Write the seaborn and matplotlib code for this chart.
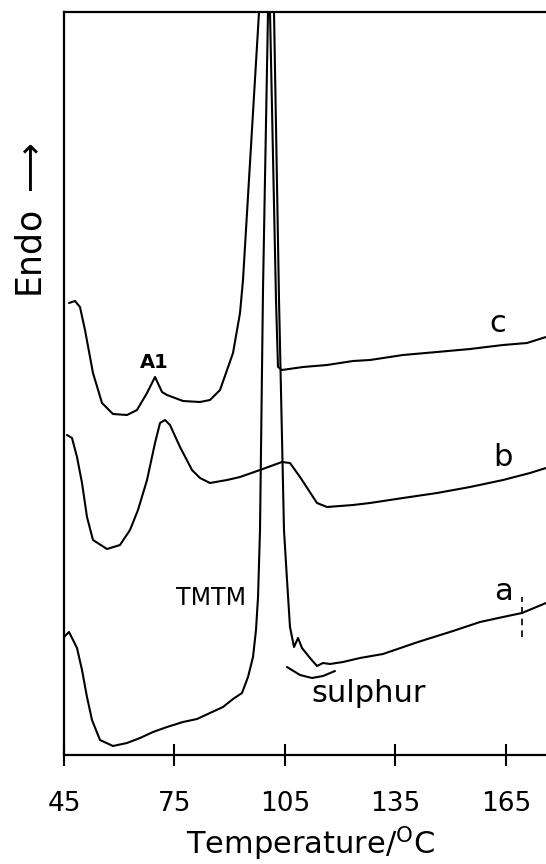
import matplotlib
matplotlib.use("Agg")
import matplotlib.pyplot as plt
import pandas as pd
import seaborn as sns

# DSC traces: temperature (deg C) vs heat flow (arbitrary units)
temp_a = [45.0, 46.36, 48.53, 49.89, 51.24, 52.60, 54.77, 58.30, 62.11, 65.64,
          69.17, 72.97, 77.31, 81.11, 84.64, 88.17, 90.89, 93.33, 94.96, 96.32,
          97.13, 97.68, 98.22, 99.03, 100.39, 101.20, 102.02, 103.38, 104.73, 105.55,
          106.36, 107.45, 108.54, 109.62, 111.79, 113.69, 115.32, 117.22, 120.75, 125.37,
          131.61, 141.12, 150.62, 157.95, 164.20, 169.35, 175.87]
flow_a = [118, 123, 107, 85, 58, 35, 15, 9, 12, 17,
          23, 28, 33, 36, 42, 48, 56, 62, 78, 98,
          125, 158, 225, 465, 743, 915, 743, 455, 225, 175,
          128, 108, 117, 107, 97, 89, 92, 91, 93, 97,
          101, 113, 124, 133, 138, 142, 152]

temp_b = [45.81, 47.17, 48.53, 49.89, 51.24, 52.87, 56.68, 60.20, 62.92, 65.09,
          67.54, 69.71, 71.07, 72.42, 73.78, 76.50, 79.75, 81.93, 84.64, 89.26,
          92.79, 98.22, 104.19, 106.36, 109.08, 113.69, 116.41, 123.47, 128.08, 137.04,
          146.28, 155.24, 164.20, 171.53, 175.87]
flow_b = [320, 317, 298, 272, 238, 215, 206, 210, 225, 245,
          275, 312, 332, 335, 330, 308, 285, 277, 272, 275,
          278, 285, 293, 292, 278, 252, 248, 250, 252, 257,
          262, 268, 275, 282, 287]

temp_c = [46.36, 47.99, 49.34, 50.70, 52.87, 55.32, 58.30, 62.11, 64.82, 67.54,
          69.71, 71.61, 72.97, 77.31, 81.93, 84.64, 87.36, 90.89, 92.79, 93.60,
          97.95, 99.58, 100.93, 102.56, 103.10, 104.19, 109.89, 116.41, 123.47, 128.08,
          137.04, 146.28, 155.24, 164.20, 170.71, 175.87]
flow_c = [452, 454, 448, 425, 382, 352, 341, 340, 345, 362,
          378, 363, 360, 354, 353, 355, 365, 402, 442, 475,
          743, 815, 743, 455, 388, 385, 388, 390, 394, 395,
          400, 403, 406, 410, 412, 418]

# bracket under the sulphur feature and the dashed marker on trace a
sulphur_temp = [105.55, 109.08, 112.34, 115.32, 118.58]
sulphur_flow = [88, 80, 77, 79, 84]
marker_temp = 169.4
marker_flow = [118, 158]

xticks = [45, 75, 105, 135, 165]

sns.set_style("ticks")
plt.rcParams["font.family"] = ["DejaVu Sans"]
plt.rcParams["text.color"] = "black"
plt.rcParams["axes.labelcolor"] = "black"
plt.rcParams["xtick.color"] = "black"

fig = plt.figure(figsize=(5.46, 8.64), dpi=100)
ax = fig.add_axes([64 / 546, 109 / 864, 482 / 546, 743 / 864])

for t, f in [(temp_a, flow_a), (temp_b, flow_b), (temp_c, flow_c)]:
    df = pd.DataFrame({"temp": t, "flow": f})
    sns.lineplot(data=df, x="temp", y="flow", sort=False, estimator=None,
                 color="black", linewidth=1.5, ax=ax)

ax.plot(sulphur_temp, sulphur_flow, color="black", linewidth=1.5)
ax.vlines(marker_temp, marker_flow[0], marker_flow[1], colors="black",
          linewidth=1.2, linestyles=(0, (4, 3)))

ax.set_xlim(45, 175.87)
ax.set_ylim(0, 743)
ax.set_xticks(xticks)
ax.set_yticks([])
ax.tick_params(axis="x", direction="inout", length=16, width=1.5,
               pad=18, labelsize=19, colors="black")

for side in ["left", "bottom", "top"]:
    ax.spines[side].set_linewidth(1.6)
    ax.spines[side].set_color("black")
ax.spines["right"].set_visible(False)

ax.set_xlabel("Temperature/$^{\\mathregular{O}}$C", fontsize=22, va="center")
ax.xaxis.set_label_coords(0.512, -0.119)
ax.set_ylabel("Endo $\\longrightarrow$", fontsize=25, va="center")
ax.yaxis.set_label_coords(-0.068, 0.72)

# curve labels and annotations
ax.text(162.8, 432, "c", fontsize=22, ha="center", va="center")
ax.text(164.2, 298, "b", fontsize=22, ha="center", va="center")
ax.text(164.2, 163, "a", fontsize=22, ha="center", va="center")
ax.text(84.9, 157, "TMTM", fontsize=17, ha="center", va="center")
ax.text(69.4, 393, "A1", fontsize=14, fontweight="bold", ha="center", va="center")
ax.text(127.8, 62, "sulphur", fontsize=22, ha="center", va="center")

fig.savefig("out.png", dpi=100)
